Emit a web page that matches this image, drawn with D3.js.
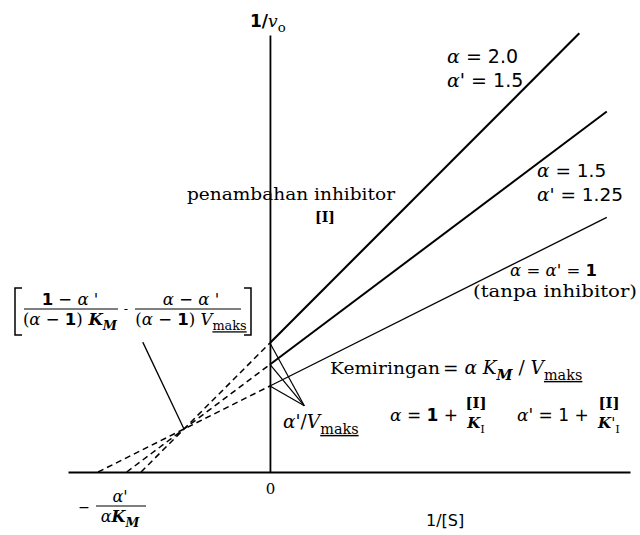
<!DOCTYPE html>
<html>
<head>
<meta charset="utf-8">
<script src="https://cdn.jsdelivr.net/npm/d3@7"></script>
<style>
  html, body { margin: 0; padding: 0; background: #fff; }
  svg { display: block; }
  text { fill: #000; font-family: "DejaVu Serif", serif; }
</style>
</head>
<body>
<script>
// Lineweaver–Burk plot for mixed inhibition
const alpha      = [2.0, 1.5, 1.0];     // α for each line
const alphaPrime = [1.5, 1.25, 1.0];    // α' for each line
const lineEnd    = [1.80, 1.96, 1.96];  // 1/[S] where each solid line stops
const Km = 1, Vmax = 1;
const xTickValues = [0];
const xTickLabels = ["0"];

const W = 640, H = 535;
const svg = d3.select("body").append("svg").attr("width", W).attr("height", H);

const x = d3.scaleLinear().domain([-1.175, 2.095]).range([68, 630]);
const y = d3.scaleLinear().domain([0, 5.08]).range([472, 35]);

// axes
const xAxis = d3.axisBottom(x).tickValues(xTickValues)
  .tickFormat((d, i) => xTickLabels[i]).tickSize(0).tickSizeOuter(0).tickPadding(11);
const gx = svg.append("g").attr("transform", `translate(0,${y(0)})`).call(xAxis);
gx.select(".domain").attr("stroke", "#000").attr("stroke-width", 2);
gx.selectAll("text").attr("font-family", "DejaVu Sans").attr("font-size", 15).attr("fill", "#000");

const yAxis = d3.axisLeft(y).tickValues([]).tickSizeOuter(0);
const gy = svg.append("g").attr("transform", `translate(${x(0)},0)`).call(yAxis);
gy.select(".domain").attr("stroke", "#000").attr("stroke-width", 1.8);

const line = d3.line().x(d => x(d[0])).y(d => y(d[1]));
const strokeW = [2.1, 2.0, 1.3];

alpha.forEach((a, i) => {
  const ap = alphaPrime[i];
  const slope = a * Km / Vmax, icpt = ap / Vmax;
  const xi = -ap / (a * Km);
  // extrapolated part below zero
  svg.append("path").attr("d", line([[xi, 0], [0, icpt]]))
    .attr("fill", "none").attr("stroke", "#000").attr("stroke-width", 1.5)
    .attr("stroke-dasharray", "6,4");
  // measured part
  svg.append("path").attr("d", line([[0, icpt], [lineEnd[i], slope * lineEnd[i] + icpt]]))
    .attr("fill", "none").attr("stroke", "#000").attr("stroke-width", strokeW[i]);
});

// pointers to the intercepts α'/Vmaks
const apex = [0.2, 0.77];
alphaPrime.forEach(ap => {
  svg.append("path").attr("d", line([[0, ap / Vmax], apex]))
    .attr("fill", "none").attr("stroke", "#000").attr("stroke-width", 1.2);
});

// pointer to the common crossing point
const a0 = alpha[0], ap0 = alphaPrime[0];
const cross = [(1 - ap0) / ((a0 - 1) * Km), (a0 - ap0) / ((a0 - 1) * Vmax)];
svg.append("path").attr("d", line([[-0.74, 1.51], cross]))
  .attr("fill", "none").attr("stroke", "#000").attr("stroke-width", 1.3);

// rich text helper: parts = [[string, "flag flag"]]
function rich(px, py, parts, size, anchor) {
  const t = svg.append("text").attr("x", px).attr("y", py)
    .attr("font-size", size).attr("text-anchor", anchor || "start");
  let shift = 0;
  parts.forEach(([s, flags = ""]) => {
    const f = flags.split(" ");
    const sp = t.append("tspan").text(s);
    const isSub = f.includes("sub");
    const target = isSub ? size * 0.32 : 0;
    if (target !== shift) { sp.attr("dy", target - shift); shift = target; }
    if (f.includes("it")) sp.attr("font-style", "italic");
    if (f.includes("sans")) sp.attr("font-family", "DejaVu Sans");
    if (f.includes("b")) sp.attr("font-weight", "bold");
    if (isSub) sp.attr("font-size", size * 0.78);
    if (f.includes("u")) sp.attr("text-decoration", "underline");
  });
  return t;
}
function frac(cx, yBar, num, den, size, x0, x1, bar = true) {
  rich(cx, yBar - 4, num, size, "middle");
  rich(cx, yBar + 16, den, size, "middle");
  if (bar) svg.append("line").attr("x1", x0).attr("x2", x1).attr("y1", yBar).attr("y2", yBar)
    .attr("stroke", "#000").attr("stroke-width", 1.2);
}

// y-axis title
rich(250, 27, [["1/", "b sans"], ["v", "it"], ["o", "sub"]], 17);
// x-axis title
rich(426, 526, [["1/[S]", "sans"]], 16);

// line labels
rich(447, 63, [["α", "it"], ["  = 2.0", "sans"]], 19);
rich(447, 87, [["α", "it"], ["' = 1.5", "sans"]], 19);
rich(537, 177, [["α", "it"], ["  = 1.5", "sans"]], 18.5);
rich(537, 201, [["α", "it"], ["' = 1.25", "sans"]], 18.5);
rich(510, 276, [["α", "it"], [" = ", "sans"], ["α", "it"], ["' = ", "sans"], ["1", "b sans"]], 16.5);
svg.append("text").attr("x", 473).attr("y", 297).attr("font-size", 16.5)
  .attr("textLength", 164).attr("lengthAdjust", "spacingAndGlyphs").text("(tanpa inhibitor)");

svg.append("text").attr("x", 187).attr("y", 200).attr("font-size", 17)
  .attr("textLength", 208).attr("lengthAdjust", "spacingAndGlyphs").text("penambahan inhibitor");
svg.append("text").attr("x", 325).attr("y", 222).attr("font-size", 14)
  .attr("font-weight", "bold").attr("text-anchor", "middle").text("[I]");

// slope
const k = svg.append("text").attr("x", 330).attr("y", 374).attr("font-size", 17);
k.append("tspan").attr("textLength", 110).attr("lengthAdjust", "spacingAndGlyphs").text("Kemiringan");
rich(443, 374, [[" = ", "sans"], ["α", "it"], [" K", "it"], ["M", "it b sub"], [" / ", ""], ["V", "it"], ["maks", "sub u"]], 18.5);

// intercept label
rich(283, 428, [["α", "it"], ["'/", ""], ["V", "it"], ["maks", "sub u"]], 18.5);

// definitions of α and α'
rich(390, 421, [["α", "it"], [" = ", "sans"], ["1", "b sans"], [" +", "sans"]], 17);
frac(476, 412, [["[I]", "b"]], [["K", "it b"], ["I", "sub"]], 15, 465, 487, false);
rich(517, 421, [["α", "it"], ["' = 1 +", "sans"]], 17);
frac(609, 412, [["[I]", "b"]], [["K", "it b"], ["'", ""], ["I", "sub"]], 15, 597, 622, false);

// crossing-point coordinates
svg.append("path").attr("d", "M22,288H15V335H22").attr("fill", "none").attr("stroke", "#000").attr("stroke-width", 1.5);
svg.append("path").attr("d", "M244,288H251V335H244").attr("fill", "none").attr("stroke", "#000").attr("stroke-width", 1.5);
frac(70, 309, [["1", "b sans"], [" − ", "sans"], ["α", "it"], [" '", ""]],
  [["(", ""], ["α", "it"], [" − ", "sans"], ["1", "b sans"], [")", ""], [" K", "it b"], ["M", "it b sub"]], 16.5, 24, 118);
rich(126, 313, [["-", "sans"]], 12, "middle");
frac(191, 309, [["α", "it"], [" − ", "sans"], ["α", "it"], [" '", ""]],
  [["(", ""], ["α", "it"], [" − ", "sans"], ["1", "b sans"], [")", ""], [" V", "it"], ["maks", "sub u"]], 16.5, 135, 241);

// x-intercept label
rich(84, 512, [["−", "sans"]], 14, "middle");
frac(120, 506, [["α", "it"], ["'", ""]], [["α", "it"], ["K", "it b"], ["M", "it b sub"]], 16, 96, 146);
</script>
</body>
</html>
